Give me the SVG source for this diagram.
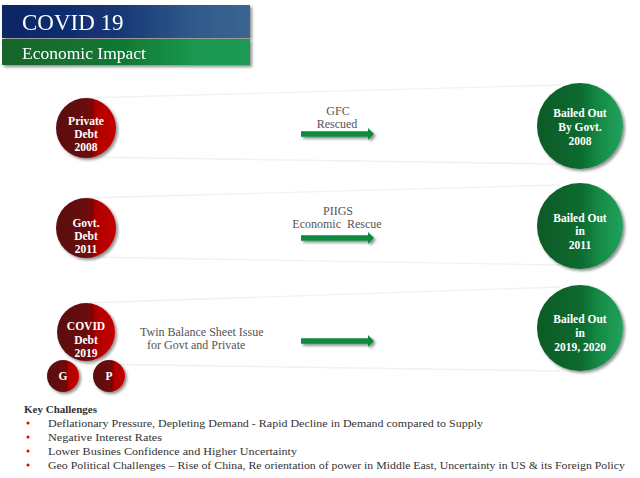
<svg xmlns="http://www.w3.org/2000/svg" width="640" height="478" viewBox="0 0 640 478">
<defs>
<linearGradient id="gBlue" x1="0" y1="0" x2="1" y2="0">
<stop offset="0" stop-color="#0b2566"/><stop offset="0.45" stop-color="#143574"/><stop offset="0.75" stop-color="#2f5889"/><stop offset="1" stop-color="#3c6592"/>
</linearGradient>
<linearGradient id="gGreenBar" x1="0" y1="0" x2="1" y2="0">
<stop offset="0" stop-color="#13652a"/><stop offset="0.5" stop-color="#117a35"/><stop offset="0.8" stop-color="#1b9a52"/><stop offset="1" stop-color="#1d9a56"/>
</linearGradient>
<linearGradient id="gRed" x1="0" y1="0" x2="1" y2="0">
<stop offset="0" stop-color="#5a0c0c"/><stop offset="0.55" stop-color="#6a0808"/><stop offset="0.68" stop-color="#b00000"/><stop offset="1" stop-color="#c40000"/>
</linearGradient>
<linearGradient id="gGreen" x1="0" y1="0" x2="1" y2="0">
<stop offset="0" stop-color="#0b5a26"/><stop offset="0.5" stop-color="#0b6a30"/><stop offset="0.75" stop-color="#168e48"/><stop offset="1" stop-color="#22a25c"/>
</linearGradient>
<filter id="sh" x="-20%" y="-20%" width="150%" height="150%">
<feGaussianBlur in="SourceAlpha" stdDeviation="1.5"/>
<feOffset dx="2" dy="2" result="b"/>
<feComponentTransfer><feFuncA type="linear" slope="0.45"/></feComponentTransfer>
<feMerge><feMergeNode/><feMergeNode in="SourceGraphic"/></feMerge>
</filter>
<path id="arrow" d="M0,-2.8 L67,-2.8 L67,-6 L73,0 L67,6 L67,2.8 L0,2.8 Z"/>
</defs>
<style>
.ttl{font-family:"Liberation Serif",serif;fill:#ffffff}
.wt{font-family:"Liberation Serif",serif;font-size:11.5px;font-weight:bold;fill:#ffffff;text-anchor:middle}
.lbl{font-family:"Liberation Serif",serif;font-size:12px;fill:#555555}
.band{stroke:#f1f1f1;stroke-width:1.3;fill:none}
.arr{fill:#0e8a3e}
.kc{font-family:"Liberation Serif",serif;font-size:11px;fill:#333333}
.bul{fill:#e00000}
</style>
<rect width="640" height="478" fill="#ffffff"/>

<g id="header" filter="url(#sh)">
<rect x="2" y="5" width="248" height="33" fill="url(#gBlue)"/>
<rect x="2" y="39" width="248" height="26" fill="url(#gGreenBar)"/>
<text class="ttl" x="22" y="30" font-size="23">COVID 19</text>
<text class="ttl" x="22" y="59" font-size="17.5">Economic Impact</text>
</g>

<g id="connectors">
<line class="band" x1="85" y1="98" x2="560" y2="85"/>
<line class="band" x1="85" y1="157" x2="560" y2="164"/>
<line class="band" x1="85" y1="198" x2="560" y2="185"/>
<line class="band" x1="85" y1="257" x2="560" y2="265"/>
<line class="band" x1="85" y1="303" x2="560" y2="287"/>
<line class="band" x1="85" y1="364" x2="560" y2="371"/>
<g filter="url(#sh)">
<use href="#arrow" class="arr" transform="translate(301,134)"/>
<use href="#arrow" class="arr" transform="translate(301,238)"/>
<use href="#arrow" class="arr" transform="translate(301,341)"/>
</g>
</g>

<g id="lbl1">
<text class="lbl" x="338" y="115" text-anchor="middle">GFC</text>
<text class="lbl" x="337" y="128" text-anchor="middle">Rescued</text>
</g>
<g id="lbl2">
<text class="lbl" x="338" y="215" text-anchor="middle">PIIGS</text>
<text class="lbl" x="337" y="228" text-anchor="middle" xml:space="preserve">Economic  Rescue</text>
</g>
<g id="lbl3">
<text class="lbl" x="140" y="336">Twin Balance Sheet Issue</text>
<text class="lbl" x="147" y="349">for Govt and Private</text>
</g>

<g id="private-debt">
<circle cx="86" cy="128" r="30" fill="url(#gRed)" filter="url(#sh)"/>
<text class="wt" x="86" y="125">Private</text>
<text class="wt" x="86" y="138">Debt</text>
<text class="wt" x="86" y="151">2008</text>
</g>
<g id="govt-debt">
<circle cx="86" cy="228" r="30" fill="url(#gRed)" filter="url(#sh)"/>
<text class="wt" x="86" y="227">Govt.</text>
<text class="wt" x="86" y="240">Debt</text>
<text class="wt" x="86" y="253">2011</text>
</g>
<g id="covid-debt">
<circle cx="86" cy="332" r="29" fill="url(#gRed)" filter="url(#sh)"/>
<text class="wt" x="86" y="330">COVID</text>
<text class="wt" x="86" y="344">Debt</text>
<text class="wt" x="86" y="357">2019</text>
</g>
<g id="g-node">
<circle cx="63" cy="376" r="16" fill="url(#gRed)" filter="url(#sh)"/>
<text class="wt" x="63" y="380">G</text>
</g>
<g id="p-node">
<circle cx="109" cy="376" r="16" fill="url(#gRed)" filter="url(#sh)"/>
<text class="wt" x="109" y="380">P</text>
</g>

<g id="bailed-2008">
<circle cx="580" cy="126" r="43" fill="url(#gGreen)" filter="url(#sh)"/>
<text class="wt" x="580" y="117">Bailed Out</text>
<text class="wt" x="580" y="131">By Govt.</text>
<text class="wt" x="580" y="145">2008</text>
</g>
<g id="bailed-2011">
<circle cx="580" cy="226" r="43" fill="url(#gGreen)" filter="url(#sh)"/>
<text class="wt" x="580" y="222">Bailed Out</text>
<text class="wt" x="580" y="235">in</text>
<text class="wt" x="580" y="249">2011</text>
</g>
<g id="bailed-2019">
<circle cx="580" cy="328" r="43" fill="url(#gGreen)" filter="url(#sh)"/>
<text class="wt" x="580" y="323">Bailed Out</text>
<text class="wt" x="580" y="337">in</text>
<text class="wt" x="580" y="351">2019, 2020</text>
</g>

<g id="key-challenges">
<text class="kc" x="24" y="413" font-weight="bold">Key Challenges</text>
<circle class="bul" cx="28" cy="423" r="1.5"/>
<circle class="bul" cx="28" cy="437" r="1.5"/>
<circle class="bul" cx="28" cy="451" r="1.5"/>
<circle class="bul" cx="28" cy="465" r="1.5"/>
<text class="kc" x="48" y="427" textLength="435" lengthAdjust="spacingAndGlyphs">Deflationary Pressure, Depleting Demand - Rapid Decline in Demand compared to Supply</text>
<text class="kc" x="48" y="441" textLength="114" lengthAdjust="spacingAndGlyphs">Negative Interest Rates</text>
<text class="kc" x="48" y="455" textLength="249" lengthAdjust="spacingAndGlyphs">Lower Busines Confidence and Higher Uncertainty</text>
<text class="kc" x="48" y="469" textLength="577" lengthAdjust="spacingAndGlyphs">Geo Political Challenges – Rise of China, Re orientation of power in Middle East, Uncertainty in US &amp; its Foreign Policy</text>
</g>
</svg>
